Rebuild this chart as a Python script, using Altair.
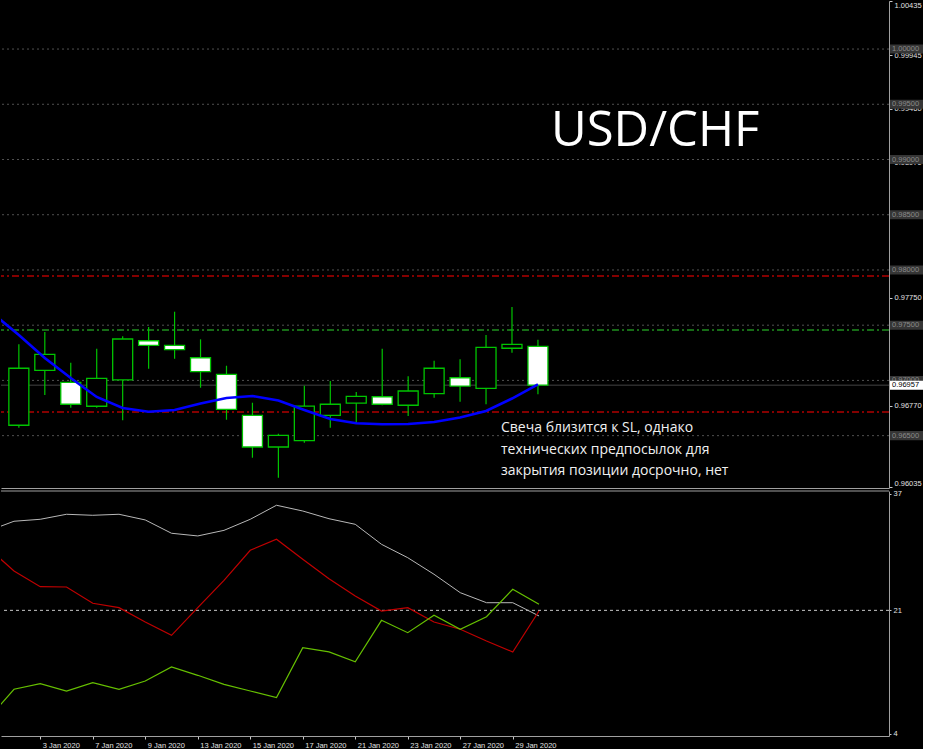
import json
import altair as alt
import pandas as pd

# ---------------- data ----------------
dates = ["31 Dec 2019", "2 Jan 2020", "3 Jan 2020", "6 Jan 2020", "7 Jan 2020", "8 Jan 2020",
         "9 Jan 2020", "10 Jan 2020", "13 Jan 2020", "14 Jan 2020", "15 Jan 2020", "16 Jan 2020",
         "17 Jan 2020", "20 Jan 2020", "21 Jan 2020", "22 Jan 2020", "23 Jan 2020", "24 Jan 2020",
         "27 Jan 2020", "28 Jan 2020", "29 Jan 2020", "30 Jan 2020"]

# indicator values (from 31 Dec 2019)
ma_line = [0.97605, 0.97411, 0.97203, 0.97022, 0.96850, 0.96750, 0.96717, 0.96732, 0.96791, 0.96841,
           0.96859, 0.96818, 0.96732, 0.96651, 0.96612, 0.96603, 0.96605, 0.96623, 0.96664, 0.96723,
           0.96836, 0.96965]
adx_line = [31.9, 33.25, 33.52, 34.21, 34.07, 34.21, 33.43, 31.6, 31.23, 32.0, 33.52, 35.45, 34.66,
            33.6, 32.83, 30.08, 28.24, 25.96, 23.43, 22.05, 22.05, 20.23]
minus_di = [29.63, 26.41, 24.25, 24.21, 21.97, 21.37, 19.4, 17.57, 21.37, 25.13, 29.26, 30.77, 28.02,
            25.35, 22.98, 20.91, 21.37, 19.4, 18.4, 16.79, 15.28, 20.91]
plus_di = [6.02, 10.15, 10.92, 9.91, 11.05, 10.15, 11.29, 13.21, 12.07, 10.83, 9.91, 9.0, 15.87,
           15.28, 13.94, 19.63, 17.93, 20.32, 18.4, 20.13, 23.9, 21.83]

# candles (from 2 Jan 2020)
c_open = [0.96594, 0.97091, 0.96983, 0.96766, 0.97004, 0.97359, 0.97318, 0.97205, 0.97055, 0.96684,
          0.96397, 0.96454, 0.96684, 0.96795, 0.96852, 0.96775, 0.96880, 0.97024, 0.96928, 0.97291,
          0.97309]
c_high = [0.97327, 0.97438, 0.97160, 0.97287, 0.97399, 0.97483, 0.97622, 0.97372, 0.97133, 0.96798,
          0.96518, 0.96952, 0.96995, 0.96895, 0.97287, 0.97037, 0.97178, 0.97191, 0.97411, 0.97664,
          0.97368]
c_low = [0.96572, 0.96868, 0.96753, 0.96753, 0.96639, 0.97106, 0.97196, 0.96934, 0.96644, 0.96300,
         0.96119, 0.96436, 0.96572, 0.96617, 0.96775, 0.96678, 0.96843, 0.96807, 0.96784, 0.97251,
         0.96874]
c_close = [0.97110, 0.97236, 0.96784, 0.97019, 0.97375, 0.97318, 0.97278, 0.97079, 0.96738, 0.96397,
           0.96503, 0.96768, 0.96784, 0.96856, 0.96784, 0.96904, 0.97110, 0.96949, 0.97300, 0.97327,
           0.96957]

round_levels = [1.0, 0.995, 0.99, 0.985, 0.98, 0.975, 0.97, 0.965]
stop_levels = [0.97945, 0.96714]
target_levels = [0.97456]
price_ticks = [1.00435, 1.00190, 0.99945, 0.99700, 0.99460, 0.99215, 0.98970, 0.98725, 0.98480,
               0.98235, 0.97750, 0.97260, 0.96770, 0.96280, 0.96035]
adx_ticks = [4, 21, 37]
adx_mid = [21]
date_ticks = [1, 3, 5, 7, 9, 11, 13, 15, 17, 19]

title_text = ["USD/CHF"]
note_lines = ["Свеча близится к SL, однако", "технических предпосылок для",
              "закрытия позиции досрочно, нет"]

# ---------------- tables ----------------
ind = pd.DataFrame({"i": list(range(-1, len(dates) - 1)), "date": dates, "ma": ma_line,
                    "adx": adx_line, "mdi": minus_di, "pdi": plus_di})
cdl = pd.DataFrame({"i": list(range(len(c_open))), "date": dates[1:], "open": c_open,
                    "high": c_high, "low": c_low, "close": c_close})
cdl["kind"] = ["bull" if c >= o else "bear" for o, c in zip(c_open, c_close)]
lv = pd.DataFrame({"level": round_levels, "label": [f"{v:.5f}" for v in round_levels]})
stops = pd.DataFrame({"level": stop_levels})
targets = pd.DataFrame({"level": target_levels})
last = pd.DataFrame({"level": [c_close[-1]], "label": [f"{c_close[-1]:.5f}"]})
mid = pd.DataFrame({"v": adx_mid})

GREEN = "#00c400"
FONT = "Liberation Sans"
W = 888

xscale = alt.Scale(domain=[-0.4952, 33.3333], nice=False, zero=False)
yscale = alt.Scale(domain=[0.96026, 1.00435], nice=False, zero=False)
ascale = alt.Scale(domain=[3.725, 37.41], nice=False, zero=False)

xaxis_top = alt.Axis(labels=False, ticks=False, domain=True, domainColor="#a0a0a0",
                     grid=False, title=None)
yaxis_main = alt.Axis(orient="right", values=price_ticks, format=".5f", labelFlush=1,
                      tickSize=3, tickColor="#c8c8c8", labelPadding=2, labelColor="#e0e0e0",
                      labelFont=FONT, labelFontSize=7.5, domainColor="#a0a0a0", grid=False,
                      title=None, labelOverlap=False, labelBound=False)

# ---------------- main panel ----------------
lv_rules = alt.Chart(lv).mark_rule(color="#505050", strokeDash=[2, 3]).encode(
    y=alt.Y("level:Q", scale=yscale, axis=yaxis_main))
stop_rules = alt.Chart(stops).mark_rule(color="#b00000", strokeDash=[7, 3, 2, 3],
                                         strokeWidth=1.5).encode(y=alt.Y("level:Q"))
target_rules = alt.Chart(targets).mark_rule(color="#1f8f1f", strokeDash=[7, 3, 2, 3],
                                             strokeWidth=1.5).encode(y=alt.Y("level:Q"))
last_rule = alt.Chart(last).mark_rule(color="#444444").encode(y=alt.Y("level:Q"))

wicks = alt.Chart(cdl).mark_rule(color=GREEN, strokeWidth=1.2).encode(
    x=alt.X("i:Q", scale=xscale, axis=xaxis_top),
    y=alt.Y("low:Q"), y2="high:Q")
bodies = alt.Chart(cdl).mark_bar(size=20, stroke=GREEN, strokeWidth=1.3).encode(
    x=alt.X("i:Q", scale=xscale, axis=xaxis_top),
    y=alt.Y("open:Q"), y2="close:Q",
    fill=alt.Fill("kind:N", scale=alt.Scale(domain=["bull", "bear"], range=["#000000", "#ffffff"]),
                  legend=None))
ma = alt.Chart(ind).mark_line(color="#0000ff", strokeWidth=2.6, clip=True).encode(
    x=alt.X("i:Q", scale=xscale, axis=xaxis_top), y=alt.Y("ma:Q"))

box_enc = dict(x=alt.value(889), x2=alt.value(922), y=alt.Y("top:Q"), y2="bot:Q")
lv_boxes = alt.Chart(lv).transform_calculate(
    top="datum.level + 0.00041", bot="datum.level - 0.00041"
).mark_rect(color="#363636").encode(**box_enc)
lv_text = alt.Chart(lv).mark_text(align="left", baseline="middle", font=FONT, fontSize=7.5,
                                  color="#8a8a8a").encode(
    x=alt.value(891), y=alt.Y("level:Q"), text="label:N")
last_box = alt.Chart(last).transform_calculate(
    top="datum.level + 0.00041", bot="datum.level - 0.00041"
).mark_rect(color="#ffffff").encode(**box_enc)
last_text = alt.Chart(last).mark_text(align="left", baseline="middle", font=FONT, fontSize=7.5,
                                      color="#000000").encode(
    x=alt.value(891), y=alt.Y("level:Q"), text="label:N")

title = alt.Chart(pd.DataFrame({"t": title_text})).mark_text(
    align="left", baseline="alphabetic", font="Open Sans", fontSize=49, color="#ffffff"
).encode(x=alt.value(550), y=alt.value(145), text="t:N")
note = alt.Chart(pd.DataFrame({"t": [note_lines]})).mark_text(
    align="left", baseline="alphabetic", font="Open Sans", fontSize=14, color="#f0f0f0",
    lineHeight=21.5
).encode(x=alt.value(500), y=alt.value(431), text="t")

top = alt.layer(lv_rules, stop_rules, target_rules, last_rule, wicks, bodies, ma,
                lv_boxes, lv_text, last_box, last_text, title, note).properties(width=W, height=487)

# ---------------- indicator panel ----------------
label_expr = json.dumps(dates) + "[datum.value + 1]"
xaxis_bot = alt.Axis(values=date_ticks, labelExpr=label_expr, labelAlign="left", labelOffset=2,
                     labelFlush=False, labelOverlap=False, labelBound=False, tickSize=3,
                     tickColor="#c8c8c8", labelPadding=2, labelColor="#e0e0e0", labelFont=FONT,
                     labelFontSize=7.5, domainColor="#a0a0a0", grid=False, title=None)
yaxis_bot = alt.Axis(orient="right", values=adx_ticks, tickSize=2, tickColor="#c8c8c8",
                     labelPadding=2, labelColor="#e0e0e0", labelFont=FONT, labelFontSize=7.5,
                     domainColor="#a0a0a0", grid=False, title=None, labelOverlap=False)

adx = alt.Chart(ind).mark_line(color="#b8b8b8", strokeWidth=1, clip=True).encode(
    x=alt.X("i:Q", scale=xscale, axis=xaxis_bot),
    y=alt.Y("adx:Q", scale=ascale, axis=yaxis_bot))
mdi = alt.Chart(ind).mark_line(color="#c00000", strokeWidth=1.2, clip=True).encode(
    x=alt.X("i:Q", scale=xscale, axis=xaxis_bot), y=alt.Y("mdi:Q"))
pdi = alt.Chart(ind).mark_line(color="#66c000", strokeWidth=1.2, clip=True).encode(
    x=alt.X("i:Q", scale=xscale, axis=xaxis_bot), y=alt.Y("pdi:Q"))
mid_rule = alt.Chart(mid).mark_rule(color="#c8c8c8", strokeDash=[3, 3]).encode(y=alt.Y("v:Q"))
top_border = alt.Chart(pd.DataFrame({"v": [0]})).mark_rule(color="#a0a0a0").encode(
    y=alt.datum(37.41))

bottom = alt.layer(mid_rule, top_border, adx, mdi, pdi).properties(width=W, height=245)

chart = alt.vconcat(top, bottom, spacing=3, bounds="flush").configure(
    background="#000000", padding=0
).configure_view(stroke=None)

chart.save("out.html", embed_options={"renderer": "svg", "actions": False})
